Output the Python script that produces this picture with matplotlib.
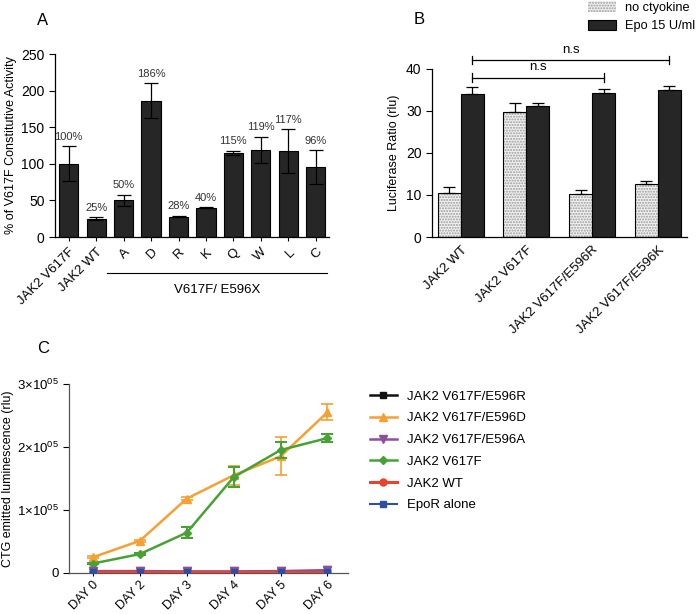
import matplotlib
matplotlib.use("Agg")
import matplotlib.pyplot as plt
import matplotlib.transforms as mtransforms
import numpy as np

plt.rcParams["font.family"] = ["Liberation Sans", "DejaVu Sans"]
plt.rcParams["mathtext.fontset"] = "custom"
plt.rcParams["mathtext.rm"] = "Liberation Sans"
plt.rcParams["mathtext.it"] = "Liberation Sans:italic"
plt.rcParams["axes.linewidth"] = 0.9
plt.rcParams["xtick.direction"] = "out"
plt.rcParams["ytick.direction"] = "out"

# panel A
a_labels = ["JAK2 V617F", "JAK2 WT", "A", "D", "R", "K", "Q", "W", "L", "C"]
a_vals = [100, 25, 50, 186, 28, 40, 115, 119, 117, 96]
a_err = [24, 2, 8, 24, 1, 1, 3, 18, 30, 23]
a_pct = ["100%", "25%", "50%", "186%", "28%", "40%", "115%", "119%", "117%", "96%"]

# panel B
b_groups = ["JAK2 WT", "JAK2 V617F", "JAK2 V617F/E596R", "JAK2 V617F/E596K"]
b_nocyt = [10.5, 29.8, 10.2, 12.5]
b_nocyt_err = [1.5, 2.0, 0.9, 0.8]
b_epo = [34.0, 31.2, 34.3, 34.9]
b_epo_err = [1.7, 0.6, 1.0, 1.0]

# panel C
days = ["DAY 0", "DAY 2", "DAY 3", "DAY 4", "DAY 5", "DAY 6"]
c_e596r = [1500, 1200, 1000, 1000, 1200, 1500]
c_e596d = [25000, 51000, 118000, 155000, 185000, 255000]
c_e596d_err = [2000, 2000, 2000, 15000, 30000, 13000]
c_e596a = [3000, 3000, 2500, 2500, 3000, 4500]
c_v617f = [15000, 30000, 64000, 152000, 195000, 214000]
c_v617f_err = [1500, 1500, 9000, 16000, 12000, 7000]
c_wt = [1200, 1200, 1000, 1000, 800, 500]
c_epor = [800, 800, 800, 800, 800, 800]

fig = plt.figure(figsize=(7, 6.14), dpi=100)

# ---------- A ----------
axA = fig.add_axes([0.0786, 0.614, 0.392, 0.298])
xa = np.arange(len(a_vals))
axA.bar(xa, a_vals, width=0.7, color="#262626", edgecolor="black", linewidth=0.8)
axA.errorbar(xa, a_vals, yerr=a_err, fmt="none", ecolor="black", elinewidth=0.9,
             capsize=5, capthick=0.9)
for x, v, e, t in zip(xa, a_vals, a_err, a_pct):
    axA.text(x, v + e + 6, t, ha="center", va="bottom", fontsize=8, color="#333333")
axA.set_xlim(-0.5, 9.5)
axA.set_ylim(0, 250)
axA.set_yticks([0, 50, 100, 150, 200, 250])
axA.set_xticks(xa)
axA.set_xticklabels(a_labels, rotation=45, ha="right", rotation_mode="anchor", fontsize=9.5)
axA.tick_params(axis="y", labelsize=10, length=4)
axA.tick_params(axis="x", length=3)
axA.set_ylabel("% of V617F Constitutive Activity", fontsize=9, labelpad=3)
axA.spines["top"].set_visible(False)
axA.spines["right"].set_visible(False)
trA = mtransforms.blended_transform_factory(axA.transData, axA.transAxes)
axA.plot([1.4, 9.4], [-0.197, -0.197], color="black", lw=0.8, transform=trA, clip_on=False)
axA.text(5.4, -0.29, "V617F/ E596X", ha="center", va="center", fontsize=9.5, transform=trA)

# ---------- B ----------
axB = fig.add_axes([0.617, 0.614, 0.364, 0.274])
xb = np.arange(len(b_groups))
w = 0.35
axB.bar(xb - w / 2, b_nocyt, width=w, color="#f2f2f2", edgecolor="#9a9a9a", hatch="......",
        linewidth=0, label="no ctyokine")
axB.bar(xb - w / 2, b_nocyt, width=w, fill=False, edgecolor="black", linewidth=0.8)
axB.bar(xb + w / 2, b_epo, width=w, color="#262626", edgecolor="black", linewidth=0.8,
        label="Epo 15 U/ml")
axB.errorbar(xb - w / 2, b_nocyt, yerr=[[0] * 4, b_nocyt_err], fmt="none", ecolor="black",
             elinewidth=0.9, capsize=4, capthick=0.9)
axB.errorbar(xb + w / 2, b_epo, yerr=[[0] * 4, b_epo_err], fmt="none", ecolor="black",
             elinewidth=0.9, capsize=4, capthick=0.9)
axB.set_xlim(-0.44, 3.44)
axB.set_ylim(0, 40)
axB.set_yticks([0, 10, 20, 30, 40])
axB.set_xticks(xb)
axB.set_xticklabels(b_groups, rotation=45, ha="right", rotation_mode="anchor", fontsize=9.5)
axB.tick_params(axis="y", labelsize=10, length=4)
axB.tick_params(axis="x", length=0, pad=5)
axB.set_ylabel("Luciferase Ratio (rlu)", fontsize=9)
axB.spines["top"].set_visible(False)
axB.spines["right"].set_visible(False)
# significance brackets
for x2, yb in [(3 + w / 2, 42.1), (2 + w / 2, 37.9)]:
    x1 = w / 2
    axB.plot([x1, x2], [yb, yb], color="black", lw=0.9, clip_on=False)
    axB.plot([x1, x1], [yb - 1.0, yb + 1.0], color="black", lw=0.9, clip_on=False)
    axB.plot([x2, x2], [yb - 1.0, yb + 1.0], color="black", lw=0.9, clip_on=False)
    axB.text((x1 + x2) / 2, yb + 1.0, "n.s", ha="center", va="bottom", fontsize=9.5)
fig.legend(loc="upper left", bbox_to_anchor=(0.84, 0.998), frameon=False, fontsize=9.2,
           handlelength=2.2, handleheight=0.9, handletextpad=0.7, labelspacing=0.45,
           borderpad=0, borderaxespad=0)

# ---------- C ----------
axC = fig.add_axes([0.0986, 0.0668, 0.398, 0.308])
xc = np.arange(len(days))
c_black = "#111111"
c_orange = "#f6a033"
c_purple = "#8e4f9f"
c_green = "#47a236"
c_red = "#e8432e"
c_blue = "#2f4f9c"
axC.plot(xc, c_e596r, color=c_black, lw=1.8, marker="s", ms=5, label="JAK2 V617F/E596R", zorder=2)
axC.errorbar(xc, c_e596d, yerr=c_e596d_err, color=c_orange, lw=1.8, marker="^", ms=6,
             capsize=4, elinewidth=1.2, capthick=1.2, label="JAK2 V617F/E596D", zorder=3)
axC.plot(xc, c_e596a, color=c_purple, lw=1.8, marker="v", ms=6, label="JAK2 V617F/E596A", zorder=3)
axC.errorbar(xc, c_v617f, yerr=c_v617f_err, color=c_green, lw=1.8, marker="D", ms=4,
             capsize=4, elinewidth=1.5, capthick=1.5, label="JAK2 V617F", zorder=4)
axC.plot(xc, c_wt, color=c_red, lw=2.2, marker="o", ms=5, label="JAK2 WT", zorder=5)
axC.plot(xc, c_epor, color=c_blue, lw=1.5, marker="s", ms=4, label="EpoR alone", zorder=4)
axC.plot(xc, c_e596a, color=c_purple, lw=0, marker="v", ms=6, zorder=6)
axC.plot(xc, c_epor, color=c_blue, lw=0, marker="s", ms=4, zorder=7)
axC.set_xlim(-0.51, 5.43)
axC.set_ylim(0, 300000)
axC.set_yticks([0, 100000, 200000, 300000])
axC.set_yticklabels(["0", r"1×10$^{05}$", r"2×10$^{05}$", r"3×10$^{05}$"], fontsize=9.5)
axC.set_xticks(xc)
axC.set_xticklabels(days, rotation=45, ha="right", rotation_mode="anchor", fontsize=9)
axC.tick_params(axis="y", length=4)
axC.tick_params(axis="x", length=2, pad=2)
axC.set_ylabel("CTG emitted luminescence (rlu)", fontsize=9, labelpad=2)
axC.spines["top"].set_visible(False)
axC.spines["right"].set_visible(False)
axC.spines["left"].set_color("#555555")
axC.spines["bottom"].set_color("#555555")
hC, lC = axC.get_legend_handles_labels()
order = ["JAK2 V617F/E596R", "JAK2 V617F/E596D", "JAK2 V617F/E596A",
         "JAK2 V617F", "JAK2 WT", "EpoR alone"]
hmap = {}
for h, l in zip(hC, lC):
    # errorbar containers: use only the data line in the legend
    hmap[l] = h[0] if isinstance(h, tuple) or hasattr(h, "lines") else h
fig.legend([hmap[k] for k in order], order, loc="upper left", bbox_to_anchor=(0.528, 0.364),
           frameon=False, fontsize=9.5, handlelength=2.1, handletextpad=0.75,
           labelspacing=0.72, borderpad=0, borderaxespad=0)

# panel letters
fig.text(0.061, 0.967, "A", fontsize=12, ha="center", va="center")
fig.text(0.599, 0.969, "B", fontsize=12, ha="center", va="center")
fig.text(0.061, 0.433, "C", fontsize=12, ha="center", va="center")

fig.savefig("out.png", dpi=100)
